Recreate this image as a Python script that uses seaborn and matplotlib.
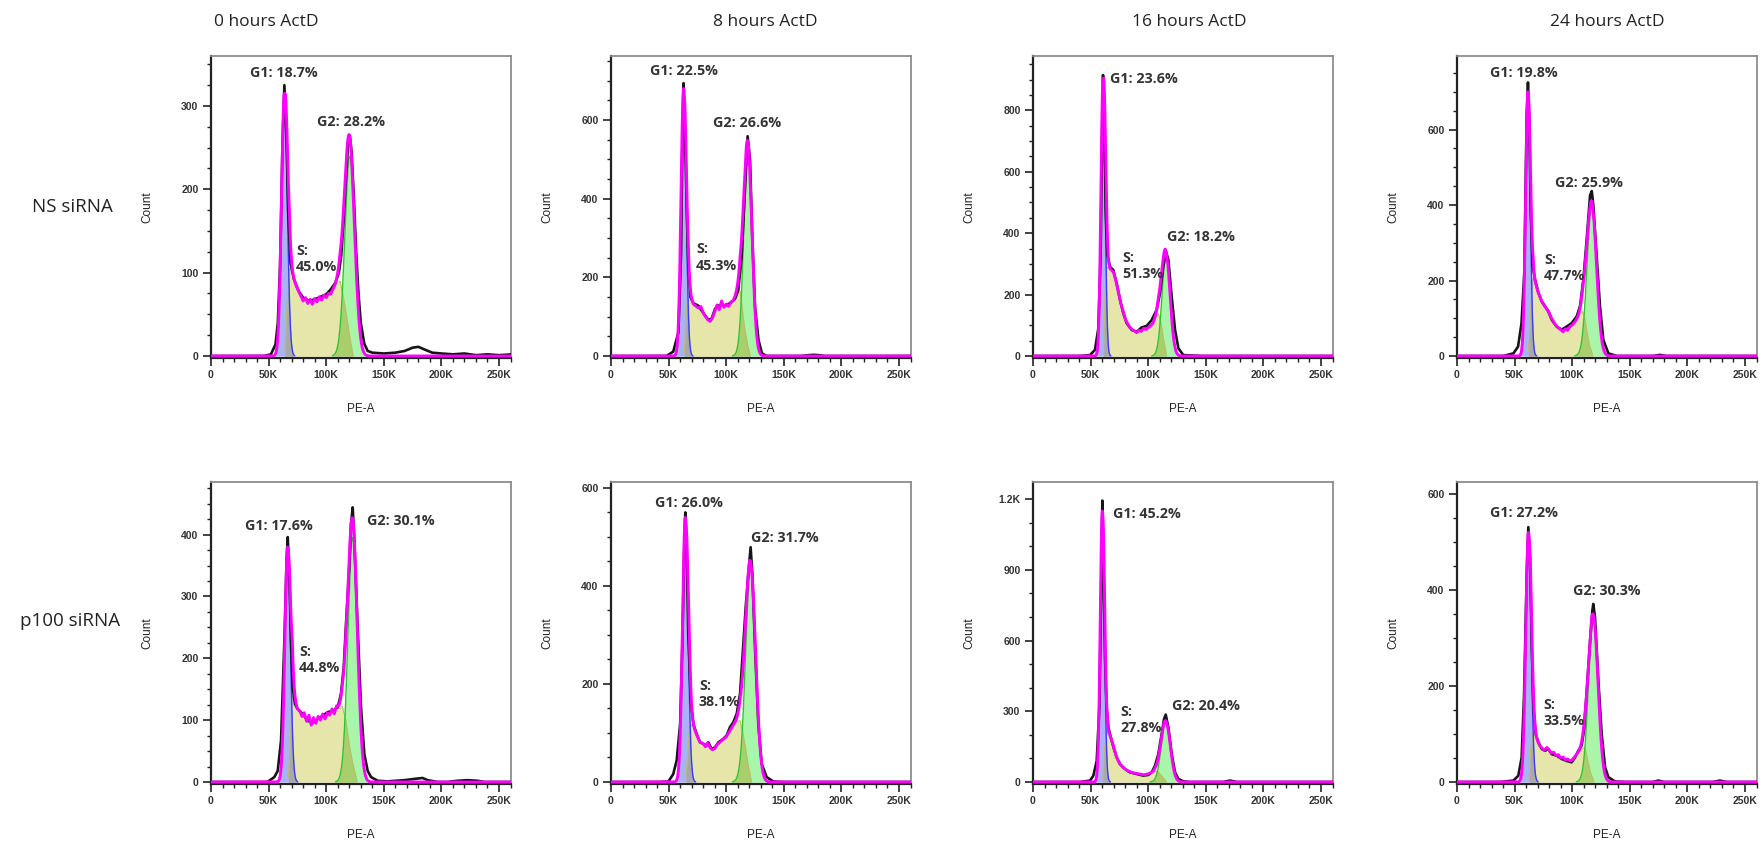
import numpy as np
import pandas as pd
import matplotlib
matplotlib.use("Agg")
import matplotlib.pyplot as plt
import seaborn as sns
from matplotlib.ticker import MultipleLocator, FuncFormatter

sns.set_theme(style="ticks")
plt.rcParams['font.family'] = ['Open Sans', 'DejaVu Sans']

# ---------------- labels ----------------
col_titles = ["0 hours ActD", "8 hours ActD", "16 hours ActD", "24 hours ActD"]
row_labels = ["NS siRNA", "p100 siRNA"]
panel_keys = ["ns_0h", "ns_8h", "ns_16h", "ns_24h",
              "p100_0h", "p100_8h", "p100_16h", "p100_24h"]

g1_pct = ["18.7%", "22.5%", "23.6%", "19.8%", "17.6%", "26.0%", "45.2%", "27.2%"]
s_pct = ["45.0%", "45.3%", "51.3%", "47.7%", "44.8%", "38.1%", "27.8%", "33.5%"]
g2_pct = ["28.2%", "26.6%", "18.2%", "25.9%", "30.1%", "31.7%", "20.4%", "30.3%"]

# ---------------- model components (PE-A in K, count) ----------------
g1_mean = [63.7, 63.0, 60.8, 61.6, 66.5, 64.5, 60.2, 62.0]
g1_peak = [315, 680, 900, 700, 380, 540, 1150, 520]
g1_sd = [2.5, 2.2, 1.8, 2.0, 2.4, 2.4, 1.8, 2.3]
g2_mean = [120.5, 118.8, 115.5, 117.0, 123.0, 121.2, 115.3, 118.3]
g2_peak = [240, 520, 330, 400, 395, 440, 255, 345]
g2_sd = [4.3, 3.6, 3.5, 4.1, 4.1, 4.3, 3.9, 4.1]

# S-phase component
ns0_s_pe = [64, 66, 68, 70, 72, 74, 76, 78, 80, 82, 84, 86, 88, 90, 92, 94, 96, 98, 100, 102,
            104, 106, 108, 110, 112, 115, 118, 121, 123.5]
ns0_s_count = [0, 60, 105, 100, 92, 84, 78, 72, 66, 70, 63, 68, 62, 69, 65, 71, 67, 73, 70, 75,
               74, 80, 84, 88, 90, 70, 45, 18, 0]
ns8_s_pe = [63.5, 65, 67, 69, 71.5, 74, 76, 78, 80, 82, 84, 86, 88, 90, 92, 94, 96, 98, 100, 102,
            104, 106, 108, 110, 112, 114, 116, 118.8, 121]
ns8_s_count = [0, 90, 165, 150, 132, 126, 122, 126, 110, 100, 92, 88, 96, 112, 130, 118, 140, 124, 132, 126,
               136, 140, 150, 160, 165, 120, 70, 25, 0]
ns16_s_pe = [61, 62.5, 64, 66, 68, 70, 72, 74, 76, 78, 80, 82, 84, 86, 88, 90, 92, 94, 96, 98,
             100, 102, 104, 106, 108.8, 111, 113, 116]
ns16_s_count = [0, 200, 290, 285, 280, 272, 245, 210, 175, 150, 122, 106, 94, 86, 82, 76, 84, 80, 90, 86,
                92, 98, 105, 120, 138, 110, 60, 0]
ns24_s_pe = [62, 64, 66, 67.7, 70.6, 73.5, 76, 78, 80, 82, 84, 86, 88, 90, 92, 94, 96, 98, 100, 103,
             106, 109, 111, 113, 115, 118]
ns24_s_count = [0, 120, 205, 195, 168, 145, 132, 124, 114, 100, 90, 80, 74, 70, 64, 72, 68, 78, 82, 92,
                105, 118, 98, 60, 28, 0]
p0_s_pe = [67, 69, 70.5, 73, 75, 77, 79, 81, 83, 85, 87, 89, 91, 93, 95, 97, 99, 101, 103, 105,
           107, 109, 111, 114, 117, 120, 123, 127]
p0_s_count = [0, 70, 140, 128, 118, 115, 106, 112, 98, 108, 92, 104, 95, 106, 100, 110, 102, 112, 108, 118,
              110, 122, 118, 122, 100, 60, 30, 0]
p8_s_pe = [65, 66.5, 68.5, 71, 74, 77, 80, 82, 84, 86, 88, 90, 92, 94, 96, 98, 100, 102, 104, 106,
           108, 110, 112, 114, 116, 119, 122]
p8_s_count = [0, 60, 120, 115, 98, 82, 78, 72, 80, 70, 66, 68, 76, 80, 84, 88, 92, 100, 108, 115,
              120, 124, 125, 105, 80, 35, 0]
p16_s_pe = [60.5, 62, 64.5, 66.5, 68.5, 70.5, 72.6, 75.5, 78, 80, 82, 84, 86, 88, 90, 92, 94, 96, 98, 100,
            102, 104, 106, 108.8, 112, 116]
p16_s_count = [0, 140, 215, 200, 175, 140, 105, 76, 62, 55, 48, 44, 40, 38, 36, 34, 32, 30, 32, 34,
               38, 42, 45, 42, 25, 0]
p24_s_pe = [62.5, 64, 66, 68, 70, 72, 74, 76, 78, 80, 82, 84, 86, 88, 90, 92, 94, 96, 98, 100,
            103, 106, 109, 111, 113, 115.5, 119]
p24_s_count = [0, 70, 100, 95, 84, 75, 70, 66, 72, 66, 60, 62, 55, 57, 50, 52, 46, 48, 44, 46,
               55, 62, 70, 72, 50, 22, 0]

# ---------------- measured histograms (PE-A in K, count) ----------------
ns0_pe = [0, 46, 52, 56, 58, 60, 62, 63.7, 65.5, 67, 69, 72, 76, 80, 85, 90, 95, 100, 104, 108,
          111, 113, 115, 117, 119, 120.5, 122, 124, 126, 128, 130, 133, 136, 140, 150, 160, 168, 175, 180, 185,
          192, 200, 210, 220, 230, 240, 250, 262]
ns0_count = [0, 0, 2, 14, 40, 110, 250, 325, 265, 175, 112, 92, 78, 70, 66, 68, 71, 74, 80, 88,
             100, 120, 160, 210, 255, 265, 245, 190, 125, 75, 40, 15, 6, 4, 3, 4, 6, 10, 11, 8,
             4, 3, 2, 3, 1, 2, 1, 2]
ns8_pe = [0, 48, 54, 58.5, 60.8, 62, 63, 64.2, 65.7, 67.1, 69, 71.5, 75.8, 80, 84.5, 87.4, 90.3, 93, 96, 99,
          103, 107.6, 110.5, 113.4, 116.3, 118.6, 120.7, 122.7, 125, 128, 131, 135, 165, 171, 176, 181, 186, 262]
ns8_count = [0, 0, 11, 60, 260, 560, 694, 580, 380, 230, 150, 134, 128, 110, 92, 95, 120, 128, 130, 128,
             134, 145, 168, 253, 423, 559, 499, 295, 126, 41, 7, 0, 0, 2, 3, 2, 0, 0]
ns16_pe = [0, 40.8, 49.5, 53.8, 56.7, 58.7, 60.2, 60.8, 61.9, 63.1, 64.5, 66.8, 69.7, 72.6, 75.5, 78.4, 81.3,
           85.6, 90, 94.3, 98.7, 103, 107.3, 110.2, 113.1, 115.5, 117.5, 120.4, 123.3, 126.2, 130.5, 148, 262]
ns16_count = [0, 0, 3, 20, 90, 330, 780, 915, 760, 470, 330, 291, 280, 237, 183, 139, 107,
              85, 79, 93, 98, 117, 150, 204, 291, 340, 313, 193, 85, 25, 3, 0, 0]
ns24_pe = [0, 40, 49, 53, 56, 58.4, 60.5, 61.6, 62.8, 64, 65.7, 67.7, 70.6, 73.5, 76.4, 79.3, 82.2, 86.5, 90.9, 95.2,
           99.5, 103.9, 106.8, 109.7, 112.6, 115.5, 117, 118.3, 121.2, 124.1, 127, 131.4, 138.6, 170, 176, 182, 262]
ns24_count = [0, 0, 7, 25, 87, 220, 640, 725, 620, 380, 239, 203, 168, 145, 132, 119, 96, 78, 70, 78,
              87, 105, 132, 203, 310, 426, 437, 400, 266, 132, 43, 7, 0, 0, 3, 0, 0]
p0_pe = [0, 49, 55, 57.9, 60.8, 63.7, 65.7, 66.6, 68, 69.4, 70.9, 72.9, 75.2, 79.6, 83.9, 88.3, 92.6, 96.9, 101.3, 105.6,
         110, 112.8, 115.2, 117.2, 120, 121.5, 123, 124.4, 127.3, 130.2, 133.1, 136, 138.9, 144.7, 153, 168, 176.5, 183.7,
         188, 196.8, 205, 214, 222.8, 231.5, 237, 262]
p0_count = [0, 0, 8, 18, 67, 229, 363, 396, 336, 229, 153, 126, 118, 110, 99, 96, 102, 107, 113, 115,
            121, 142, 185, 256, 347, 417, 444, 390, 250, 121, 45, 18, 8, 2, 1, 3, 5, 6.5,
            3, 0, 0, 2, 3, 2, 0, 0]
p8_pe = [0, 42.5, 49.8, 54, 57, 60, 62, 63.7, 64.5, 65.7, 67.1, 69.2, 71.5, 74.4, 77.3, 80.1, 83, 84.5, 87.4, 90.3,
         93.2, 97.5, 100.4, 103.3, 106.2, 109.1, 112, 114.3, 116.9, 119.2, 121.2, 122.7, 125, 127.9, 130.8, 135.1,
         141, 149.6, 262]
p8_count = [0, 0, 1, 16, 44, 118, 288, 493, 550, 472, 302, 166, 118, 98, 81, 78, 74, 81, 67, 71,
            81, 88, 95, 112, 122, 139, 180, 261, 356, 424, 479, 424, 275, 118, 37, 10, 1, 0, 0]
p16_pe = [0, 40.8, 49.5, 52.4, 55.3, 57.6, 59, 60.2, 61.3, 62.5, 63.9, 65.4, 66.8, 68.3, 70.3, 72.6, 75.5, 79.9, 84.2,
          90, 95.8, 100.1, 103, 105.9, 108.8, 111.7, 113.7, 115.2, 117.5, 120.4, 123.3, 126.2, 130.5, 136, 165, 171,
          177, 262]
p16_count = [0, 0, 6, 27, 90, 317, 741, 1194, 883, 529, 317, 232, 204, 175, 140, 105, 76, 55, 41,
             34, 27, 30, 41, 69, 119, 204, 267, 286, 232, 119, 41, 13, 3, 0, 0, 6, 0, 0]
p24_pe = [0, 37.3, 49, 53.2, 56.1, 58.2, 60.5, 61.9, 63.4, 64.8, 66.3, 68.3, 70.6, 73.5, 76.4, 79.3, 82.2, 86.5, 90.9,
          95.2, 99.5, 102.4, 105.3, 108.2, 110.2, 112.6, 115.5, 117.5, 118.3, 119.8, 122.7, 125.6, 128.5, 131.4, 137.2,
          147, 170, 174.8, 180, 222, 228.3, 234, 262]
p24_count = [0, 0, 3, 13, 51, 180, 433, 531, 468, 294, 156, 100, 83, 69, 65, 69, 58, 55, 48,
             44, 41, 51, 65, 76, 107, 190, 294, 357, 371, 343, 211, 100, 31, 10, 1,
             0, 0, 3, 0, 0, 3, 0, 0]

# axis ranges / ticks per panel
y_top = [360, 763, 977, 795, 485, 612, 1273, 625]
y_major = [100, 200, 200, 200, 100, 200, 300, 200]
y_minor = [25, 50, 50, 50, 25, 50, 100, 50]

hist_pe = [ns0_pe, ns8_pe, ns16_pe, ns24_pe, p0_pe, p8_pe, p16_pe, p24_pe]
hist_count = [ns0_count, ns8_count, ns16_count, ns24_count, p0_count, p8_count, p16_count, p24_count]
s_pe = [ns0_s_pe, ns8_s_pe, ns16_s_pe, ns24_s_pe, p0_s_pe, p8_s_pe, p16_s_pe, p24_s_pe]
s_count = [ns0_s_count, ns8_s_count, ns16_s_count, ns24_s_count, p0_s_count, p8_s_count, p16_s_count, p24_s_count]

# annotation anchor positions (axes fraction, left/center)
g1_pos = [(0.13, 0.944), (0.13, 0.951), (0.257, 0.924), (0.11, 0.944),
          (0.113, 0.854), (0.147, 0.930), (0.267, 0.894), (0.11, 0.897)]
g2_pos = [(0.353, 0.781), (0.34, 0.778), (0.447, 0.401), (0.327, 0.579),
          (0.52, 0.871), (0.467, 0.815), (0.463, 0.258), (0.387, 0.639)]
s_pos = [(0.283, 0.328), (0.283, 0.334), (0.297, 0.305), (0.29, 0.298),
         (0.293, 0.411), (0.293, 0.298), (0.29, 0.212), (0.287, 0.235)]

# ---------------- figure ----------------
W, H = 1762, 843
fig = plt.figure(figsize=(W / 100, H / 100), dpi=100)
col_left = [211, 611, 1033, 1457]
row_top = [56, 482]
PW, PH = 300, 302

C_G1F, C_SF, C_G2F = "#aab1f4", "#e6e6ab", "#a9f5a9"
C_G1S, C_G2S = "#a9a9a9", "#a9cf6c"
TICKFONT = ['Liberation Sans', 'DejaVu Sans']

xg = np.arange(0, 262.2, 0.2)

for i, key in enumerate(panel_keys):
    r, c = divmod(i, 4)
    ax = fig.add_axes([col_left[c] / W, 1 - (row_top[r] + PH) / H, PW / W, PH / H])
    ppu = 300 / y_top[i]

    g1 = g1_peak[i] * np.exp(-0.5 * ((xg - g1_mean[i]) / g1_sd[i]) ** 2)
    g2 = g2_peak[i] * np.exp(-0.5 * ((xg - g2_mean[i]) / g2_sd[i]) ** 2)
    sp = np.interp(xg, s_pe[i], s_count[i], left=0, right=0)
    model = g1 + sp + g2

    ax.fill_between(xg, 0, sp, color=C_SF, lw=0, zorder=1)
    ax.fill_between(xg, 0, g1, where=g1 > 0.3, color=C_G1F, lw=0, zorder=1.2)
    ax.fill_between(xg, 0, g2, where=g2 > 0.3, color=C_G2F, lw=0, zorder=1.2)
    ax.fill_between(xg, 0, np.minimum(g1, sp), color=C_G1S, lw=0, zorder=1.4)
    ax.fill_between(xg, 0, np.minimum(g2, sp), color=C_G2S, lw=0, zorder=1.4)

    m1 = g1 > 0.5
    ax.plot(xg[m1], g1[m1], color="#3a3aff", lw=1.0, zorder=3)
    m2 = g2 > 0.5
    ax.plot(xg[m2], g2[m2], color="#2ec42e", lw=1.0, zorder=3)
    ms = sp > 0.5
    ax.plot(xg[ms], sp[ms], color="#bcbc6a", lw=0.8, zorder=2.9)

    hist_df = pd.DataFrame({"PE-A": hist_pe[i], "Count": hist_count[i]})
    sns.lineplot(data=hist_df, x="PE-A", y="Count", ax=ax, color="#151515", lw=1.9,
                 sort=False, estimator=None, zorder=4)
    model_df = pd.DataFrame({"PE-A": xg, "Count": model})
    sns.lineplot(data=model_df, x="PE-A", y="Count", ax=ax, color="#ff00ff", lw=2.1,
                 sort=False, estimator=None, zorder=5)

    ax.set_xlim(0, 260.4)
    ax.set_ylim(-2 / ppu, y_top[i])
    ax.xaxis.set_major_locator(MultipleLocator(50))
    ax.xaxis.set_minor_locator(MultipleLocator(10))
    ax.yaxis.set_major_locator(MultipleLocator(y_major[i]))
    ax.yaxis.set_minor_locator(MultipleLocator(y_minor[i]))
    ax.xaxis.set_major_formatter(FuncFormatter(lambda v, p: "0" if v == 0 else f"{int(round(v))}K"))
    ax.yaxis.set_major_formatter(FuncFormatter(
        lambda v, p: (f"{v / 1000:g}K" if v >= 1000 else f"{int(round(v))}")))
    ax.tick_params(axis="both", which="major", direction="out", length=6, width=1.2,
                   color="#222222", labelsize=7.5, labelcolor="#333333", pad=3,
                   labelfontfamily=TICKFONT)
    ax.tick_params(axis="both", which="minor", direction="out", length=3, width=1.0,
                   color="#222222")
    for lbl in ax.get_xticklabels() + ax.get_yticklabels():
        lbl.set_fontweight("bold")
    for s in ["left", "bottom"]:
        ax.spines[s].set_color("#222222")
        ax.spines[s].set_linewidth(1.6)
    for s in ["top", "right"]:
        ax.spines[s].set_color("#8c8c8c")
        ax.spines[s].set_linewidth(1.3)
    ax.grid(False)

    ax.set_ylabel("Count", fontsize=8.5, color="#222222", family=TICKFONT)
    ax.yaxis.set_label_coords(-58 / PW, 0.5)
    ax.set_xlabel("PE-A", fontsize=8.5, color="#222222", family=TICKFONT)
    ax.xaxis.set_label_coords(0.5, -45 / PH)

    tkw = dict(transform=ax.transAxes, fontsize=10.3, fontweight="bold",
               color="#333333", ha="left", va="center", zorder=6)
    ax.text(*g1_pos[i], f"G1: {g1_pct[i]}", **tkw)
    ax.text(*g2_pos[i], f"G2: {g2_pct[i]}", **tkw)
    ax.text(*s_pos[i], f"S:\n{s_pct[i]}", linespacing=1.25, **tkw)

title_x = [266, 765, 1189, 1607]
for t, x in zip(col_titles, title_x):
    fig.text(x / W, 1 - 22 / H, t, ha="center", va="center", fontsize=12.5, color="#222222")
row_xy = [(72, 207), (70, 621)]
for t, (x, y) in zip(row_labels, row_xy):
    fig.text(x / W, 1 - y / H, t, ha="center", va="center", fontsize=13.5, color="#222222")

fig.savefig("out.png", dpi=100, facecolor="white")
